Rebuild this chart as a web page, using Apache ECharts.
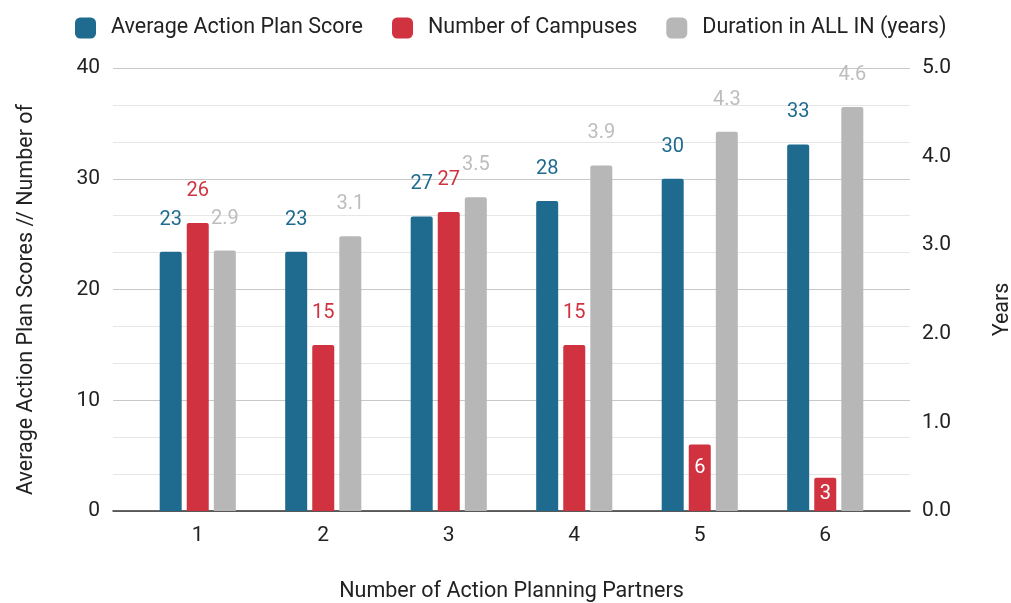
<!DOCTYPE html>
<html>
<head>
<meta charset="utf-8">
<script src="https://cdn.jsdelivr.net/npm/echarts@6/dist/echarts.min.js"></script>
<style>
  html, body { margin: 0; padding: 0; background: #fff; }
  #chart { width: 1011px; height: 603px; }
</style>
</head>
<body>
<div id="chart"></div>
<script>
// data
var partners = ["1", "2", "3", "4", "5", "6"];
var avgScore = [23.4, 23.4, 26.6, 28.0, 30.0, 33.1];
var campuses = [26, 15, 27, 15, 6, 3];
var duration = [2.94, 3.1, 3.54, 3.9, 4.28, 4.56];
var leftTicks = [0, 10, 20, 30, 40];
var rightTicks = [0, 1, 2, 3, 4, 5];

var BLUE = "#1f6b8f", RED = "#d0333f", GRAY = "#b7b7b7";
var FONT = "Roboto";

var chart = echarts.init(document.getElementById("chart"));

// small red bars get their label inside, in white
var campusData = campuses.map(function (v) {
  if (v >= 10) return v;
  return {
    value: v,
    label: {
      position: v >= 5 ? "insideTop" : "inside",
      distance: 13,
      color: "#fff"
    }
  };
});

var topLabel = function (color, fmt) {
  return {
    show: true,
    position: "top",
    distance: 22,
    color: color,
    fontFamily: FONT,
    fontSize: 20,
    formatter: fmt
  };
};

var option = {
  animation: false,
  textStyle: { fontFamily: FONT },
  legend: {
    top: 12,
    left: 70,
    itemWidth: 21,
    itemHeight: 21,
    itemGap: 29,
    icon: "roundRect",
    textStyle: { fontSize: 21.5, color: "#222", fontFamily: FONT, padding: [0, 0, 0, 10] },
    data: ["Average Action Plan Score", "Number of Campuses", "Duration in ALL IN (years)"]
  },
  grid: [
    // background grid: gridlines and axes
    { left: 113, right: 101, top: 68, bottom: 92, outerBoundsMode: "none" },
    // bars
    { left: 135, right: 123, top: 68, bottom: 92, outerBoundsMode: "none" }
  ],
  xAxis: [
    {
      gridIndex: 0, type: "value", min: 0, max: 1,
      axisLine: { show: true, onZero: false, lineStyle: { color: "#333", width: 1.5 } },
      axisTick: { show: false }, axisLabel: { show: false }, splitLine: { show: false }
    },
    {
      gridIndex: 1, type: "category", data: partners,
      axisLine: { show: false }, axisTick: { show: false },
      axisLabel: { color: "#222", fontSize: 21, margin: 14 },
      name: "Number of Action Planning Partners",
      nameLocation: "middle", nameGap: 70,
      nameTextStyle: { color: "#222", fontSize: 21.5 }
    }
  ],
  yAxis: [
    {
      gridIndex: 0, type: "value",
      min: leftTicks[0], max: leftTicks[leftTicks.length - 1], interval: 10,
      axisLine: { show: false }, axisTick: { show: false },
      axisLabel: { color: "#222", fontSize: 21, margin: 13 },
      splitLine: { lineStyle: { color: "#c8c8c8", width: 1.2 } },
      minorTick: { show: false, splitNumber: 3 },
      minorSplitLine: { show: true, lineStyle: { color: "#e6e6e6", width: 1.2 } },
      name: "Average Action Plan Scores // Number of",
      nameLocation: "middle", nameGap: 75, nameRotate: 90,
      nameTextStyle: { color: "#222", fontSize: 21.5, padding: [0, 20, 0, 0] }
    },
    {
      gridIndex: 0, type: "value", position: "right",
      min: rightTicks[0], max: rightTicks[rightTicks.length - 1], interval: 1,
      axisLine: { show: false }, axisTick: { show: false },
      axisLabel: { color: "#222", fontSize: 21, margin: 12, formatter: function (v) { return v.toFixed(1); } },
      splitLine: { show: false },
      name: "Years",
      nameLocation: "middle", nameGap: 82, nameRotate: 90,
      nameTextStyle: { color: "#222", fontSize: 21.5, padding: [0, 40, 0, 0] }
    },
    { gridIndex: 1, type: "value", min: 0, max: 40, show: false, splitLine: { show: false } },
    { gridIndex: 1, type: "value", min: 0, max: 5, show: false, splitLine: { show: false } }
  ],
  series: [
    {
      name: "Average Action Plan Score", type: "bar",
      xAxisIndex: 1, yAxisIndex: 2,
      barWidth: 22, barGap: "23%",
      itemStyle: { color: BLUE, borderRadius: [2, 2, 0, 0] },
      label: topLabel(BLUE, function (p) { return Math.round(p.value); }),
      data: avgScore
    },
    {
      name: "Number of Campuses", type: "bar",
      xAxisIndex: 1, yAxisIndex: 2,
      barWidth: 22, barGap: "23%",
      itemStyle: { color: RED, borderRadius: [2, 2, 0, 0] },
      label: topLabel(RED, function (p) { return Math.round(p.value); }),
      data: campusData
    },
    {
      name: "Duration in ALL IN (years)", type: "bar",
      xAxisIndex: 1, yAxisIndex: 3,
      barWidth: 22, barGap: "23%",
      itemStyle: { color: GRAY, borderRadius: [2, 2, 0, 0] },
      label: topLabel("#bdbdbd", function (p) { return p.value.toFixed(1); }),
      data: duration
    }
  ]
};

chart.setOption(option);
</script>
</body>
</html>
